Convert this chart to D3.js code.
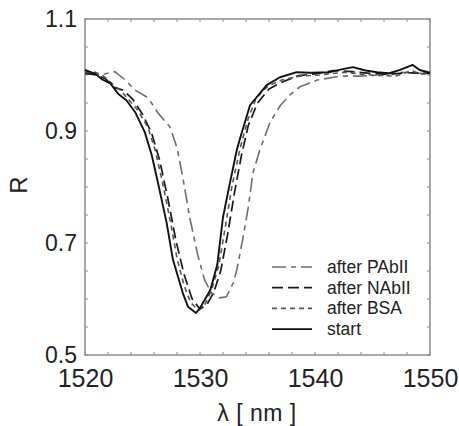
<!DOCTYPE html>
<html>
<head>
<meta charset="utf-8">
<script src="https://cdn.jsdelivr.net/npm/d3@7/dist/d3.min.js"></script>
<style>
  html, body { margin: 0; padding: 0; background: #fff; }
  svg { display: block; font-family: "Liberation Sans", Arial, sans-serif; }
</style>
</head>
<body>
<svg id="chart" width="459" height="426"></svg>
<script>
// Reflectance spectra (R vs wavelength) after each surface step
const startLambda = [1520, 1520.9, 1521.5, 1522.2, 1522.9, 1523.6, 1524.35, 1525.2, 1525.8, 1526.35, 1527.1, 1527.65, 1528.5, 1528.96, 1529.65, 1530.0, 1530.9, 1531.5, 1532.0, 1532.6, 1533.2, 1533.5, 1534.35, 1535.8, 1536.96, 1538.4, 1539.6, 1541.3, 1542.3, 1543.3, 1544.4, 1545.4, 1546.4, 1547.4, 1548.5, 1549.1, 1550];
const startR      = [1.009, 1.002, 0.992, 0.985, 0.966, 0.955, 0.934, 0.898, 0.857, 0.807, 0.736, 0.670, 0.611, 0.586, 0.575, 0.584, 0.616, 0.661, 0.746, 0.807, 0.866, 0.888, 0.946, 0.982, 0.996, 1.005, 1.004, 1.005, 1.010, 1.014, 1.008, 1.005, 1.003, 1.009, 1.018, 1.009, 1.004];

const bsaLambda = [1520, 1520.9, 1521.6, 1522.0, 1523.2, 1524.6, 1525.5, 1526.1, 1526.7, 1527.4, 1528.0, 1528.6, 1529.2, 1529.9, 1530.4, 1531.0, 1531.65, 1532.3, 1532.8, 1533.5, 1534.2, 1534.9, 1535.9, 1537.1, 1538.7, 1540.4, 1542.6, 1544.8, 1547.0, 1548.4, 1549.1, 1550];
const bsaR      = [1.006, 1.005, 0.998, 0.991, 0.970, 0.937, 0.905, 0.866, 0.812, 0.741, 0.673, 0.625, 0.593, 0.580, 0.589, 0.616, 0.661, 0.741, 0.804, 0.870, 0.923, 0.959, 0.980, 0.991, 0.998, 1.000, 1.005, 1.000, 0.998, 1.008, 1.002, 1.002];

const nabLambda = [1520, 1521.0, 1521.8, 1522.5, 1523.3, 1524.1, 1525.0, 1525.8, 1526.5, 1527.2, 1527.9, 1528.6, 1529.3, 1530.0, 1530.6, 1531.2, 1531.8, 1532.4, 1533.0, 1533.6, 1534.2, 1535.0, 1536.0, 1537.2, 1538.6, 1540.0, 1541.6, 1543.2, 1544.8, 1546.4, 1548.0, 1550];
const nabR      = [1.003, 1.000, 0.993, 0.978, 0.973, 0.958, 0.930, 0.896, 0.847, 0.780, 0.705, 0.645, 0.601, 0.582, 0.590, 0.612, 0.650, 0.715, 0.790, 0.856, 0.910, 0.950, 0.975, 0.988, 0.999, 1.002, 1.008, 1.006, 1.003, 1.001, 1.004, 1.003];

const pabLambda = [1520, 1521.3, 1522.6, 1523.5, 1524.35, 1525.5, 1526.35, 1527.4, 1528.0, 1528.5, 1529.1, 1529.8, 1530.4, 1531.0, 1531.7, 1532.3, 1532.9, 1533.2, 1533.7, 1534.2, 1534.6, 1535.2, 1536.1, 1537.0, 1537.8, 1538.7, 1540.2, 1542.2, 1543.9, 1545.65, 1547.4, 1550];
const pabR      = [1.005, 1.000, 1.006, 0.991, 0.973, 0.959, 0.932, 0.907, 0.870, 0.818, 0.746, 0.679, 0.634, 0.611, 0.602, 0.604, 0.629, 0.652, 0.705, 0.764, 0.825, 0.866, 0.916, 0.946, 0.964, 0.979, 0.991, 0.998, 0.998, 1.000, 1.005, 1.002];

const xTicks = [1520, 1530, 1540, 1550];
const yTicks = [0.5, 0.7, 0.9, 1.1];

const seriesNames = ["after PAbII", "after NAbII", "after BSA", "start"];

const series = [
  { name: seriesNames[0], lambda: pabLambda,   r: pabR,   color: "#6e6e6e", dash: "14,5,5,5", width: 1.6 },
  { name: seriesNames[1], lambda: nabLambda,   r: nabR,   color: "#1a1a1a", dash: "11,5",     width: 1.7 },
  { name: seriesNames[2], lambda: bsaLambda,   r: bsaR,   color: "#555555", dash: "5,4",      width: 1.6 },
  { name: seriesNames[3], lambda: startLambda, r: startR, color: "#111111", dash: null,       width: 1.9 }
];

const svg = d3.select("#chart");
const plotLeft = 85, plotRight = 430, plotTop = 19, plotBottom = 355;

const x = d3.scaleLinear().domain([1520, 1550]).range([plotLeft, plotRight]);
const y = d3.scaleLinear().domain([0.5, 1.1]).range([plotBottom, plotTop]);

const axisColor = "#8c8c8c";

// Minor ticks, drawn inward on all four sides
const xMinor = d3.range(1520, 1550.01, 2);
const yMinor = d3.range(0.5, 1.1001, 0.05);
const tickG = svg.append("g").attr("stroke", axisColor).attr("stroke-width", 1);
xMinor.forEach(v => {
  tickG.append("line").attr("x1", x(v)).attr("x2", x(v)).attr("y1", plotBottom).attr("y2", plotBottom - 3);
  tickG.append("line").attr("x1", x(v)).attr("x2", x(v)).attr("y1", plotTop).attr("y2", plotTop + 3);
});
yMinor.forEach(v => {
  tickG.append("line").attr("x1", plotLeft).attr("x2", plotLeft + 3).attr("y1", y(v)).attr("y2", y(v));
  tickG.append("line").attr("x1", plotRight).attr("x2", plotRight - 3).attr("y1", y(v)).attr("y2", y(v));
});

// Frame
svg.append("rect")
  .attr("x", plotLeft).attr("y", plotTop)
  .attr("width", plotRight - plotLeft).attr("height", plotBottom - plotTop)
  .attr("fill", "none").attr("stroke", axisColor).attr("stroke-width", 1.5);

// Tick labels through d3 axes (no domain path, no tick lines)
const xAxis = svg.append("g")
  .attr("transform", `translate(0,${plotBottom})`)
  .call(d3.axisBottom(x).tickValues(xTicks).tickSize(0).tickPadding(14).tickFormat(d3.format("d")));
xAxis.select(".domain").remove();
xAxis.selectAll("text").attr("font-size", 25).attr("fill", "#222").attr("font-family", "Liberation Sans, Arial, sans-serif");

const yAxis = svg.append("g")
  .attr("transform", `translate(${plotLeft},0)`)
  .call(d3.axisLeft(y).tickValues(yTicks).tickSize(0).tickPadding(8).tickFormat(d3.format(".1f")));
yAxis.select(".domain").remove();
yAxis.selectAll("text").attr("font-size", 23).attr("fill", "#222").attr("font-family", "Liberation Sans, Arial, sans-serif");

// Axis titles
svg.append("text")
  .attr("x", 257).attr("y", 421)
  .attr("text-anchor", "middle")
  .attr("font-size", 23).attr("fill", "#222")
  .attr("letter-spacing", 0.5)
  .text("λ [ nm ]");

svg.append("text")
  .attr("transform", "translate(27,185) rotate(-90)")
  .attr("text-anchor", "middle")
  .attr("font-size", 24).attr("fill", "#222")
  .text("R");

// Spectra
const line = d3.line().x(d => x(d[0])).y(d => y(d[1])).curve(d3.curveLinear);
const plotG = svg.append("g");
series.forEach(s => {
  const pts = s.lambda.map((l, i) => [l, s.r[i]]);
  plotG.append("path")
    .datum(pts)
    .attr("d", line)
    .attr("fill", "none")
    .attr("stroke", s.color)
    .attr("stroke-width", s.width)
    .attr("stroke-linejoin", "round")
    .attr("stroke-dasharray", s.dash);
});

// Legend
const legG = svg.append("g");
series.forEach((s, i) => {
  const yy = 267 + i * 20.7;
  legG.append("line")
    .attr("x1", 272).attr("x2", 312).attr("y1", yy).attr("y2", yy)
    .attr("stroke", s.color).attr("stroke-width", s.width)
    .attr("stroke-dasharray", s.dash);
  legG.append("text")
    .attr("x", 327).attr("y", yy + 6)
    .attr("font-size", 17.5).attr("fill", "#222")
    .text(s.name);
});
</script>
</body>
</html>
